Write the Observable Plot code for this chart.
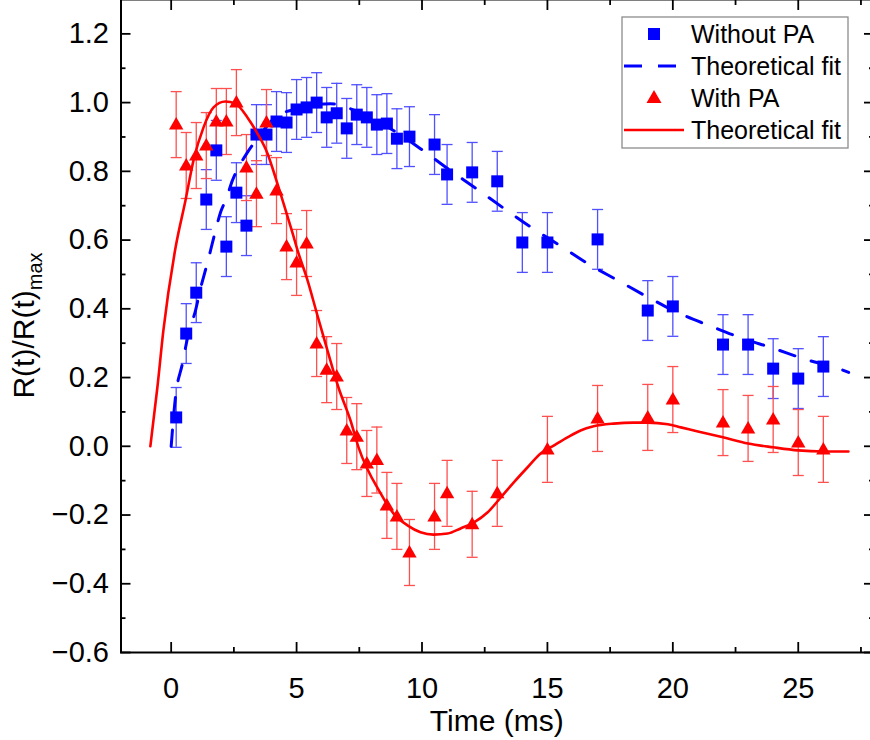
<!DOCTYPE html>
<html><head><meta charset="utf-8">
<script src="https://cdn.jsdelivr.net/npm/d3@7"></script>
<script src="https://cdn.jsdelivr.net/npm/@observablehq/plot@0.6"></script>
<style>
body{margin:0;background:#fff;}
#chart{width:870px;height:740px;overflow:hidden;}
</style>
</head><body><div id="chart"></div>
<script>
// ---- Data ----
const timeNoPA  = [0.2,0.6,1.0,1.4,1.8,2.2,2.6,3.0,3.4,3.8,4.2,4.6,5.0,5.4,5.8,6.2,6.6,7.0,7.4,7.8,8.2,8.6,9.0,9.5,10.5,11,12,13,14,15,17,19,20,22,23,24,25,26];
const valueNoPA = [0.084,0.328,0.447,0.718,0.861,0.581,0.738,0.642,0.907,0.907,0.945,0.942,0.980,0.986,1.000,0.957,0.969,0.925,0.965,0.957,0.936,0.939,0.895,0.901,0.878,0.791,0.797,0.771,0.593,0.593,0.602,0.395,0.407,0.296,0.296,0.226,0.197,0.232];
const errNoPA   = [0.087,0.087,0.087,0.087,0.087,0.087,0.087,0.087,0.087,0.087,0.087,0.087,0.087,0.087,0.087,0.087,0.087,0.087,0.087,0.087,0.087,0.087,0.087,0.087,0.087,0.087,0.087,0.087,0.087,0.087,0.087,0.087,0.087,0.087,0.087,0.087,0.087,0.087];

const timePA  = [0.2,0.6,1.0,1.4,1.8,2.2,2.6,3.0,3.4,3.8,4.2,4.6,5.0,5.4,5.8,6.2,6.6,7.0,7.4,7.8,8.2,8.6,9.0,9.5,10.5,11,12,13,15,17,19,20,22,23,24,25,26];
const valuePA = [0.936,0.817,0.846,0.875,0.945,0.945,1.000,0.811,0.735,0.942,0.744,0.581,0.535,0.590,0.299,0.223,0.203,0.046,0.028,-0.05,-0.04,-0.172,-0.204,-0.309,-0.204,-0.137,-0.227,-0.137,-0.009,0.081,0.084,0.136,0.069,0.052,0.078,0.011,-0.009];
const errPA   = [0.096,0.096,0.096,0.096,0.096,0.096,0.096,0.096,0.096,0.096,0.096,0.096,0.096,0.096,0.096,0.096,0.096,0.096,0.096,0.096,0.096,0.096,0.096,0.096,0.096,0.096,0.096,0.096,0.096,0.096,0.096,0.096,0.096,0.096,0.096,0.096,0.096];

const fitNoPATime  = [0,0.17,0.45,0.69,0.97,1.17,1.45,1.77,1.97,2.2,2.44,2.68,3.04,3.44,4.15,5.0,5.6,6.35,7.03,8.0,8.86,9.94,11.02,12.1,13.21,14.29,15.44,16.6,17.8,19.03,20.19,21.46,22.66,24.01,25.29,26.61,27.01];
const fitNoPAValue = [0,0.142,0.241,0.328,0.395,0.459,0.535,0.628,0.681,0.721,0.773,0.811,0.855,0.896,0.957,0.982,0.993,0.997,0.985,0.955,0.919,0.866,0.808,0.753,0.695,0.640,0.587,0.532,0.483,0.433,0.389,0.351,0.317,0.285,0.253,0.226,0.215];

const fitPATime  = [-0.83,-0.55,-0.31,0.17,0.57,0.89,1.29,1.69,2.16,2.56,3.04,3.44,3.84,4.16,4.48,4.84,5.04,5.44,5.83,6.23,6.67,7.15,7.47,8.35,8.86,9.42,9.94,10.46,11.02,11.54,12.06,12.62,13.14,13.66,14.21,14.73,15.25,15.8,16.32,16.84,17.64,18.43,19.0,19.8,20.32,21.0,22.0,23.0,24.0,25.0,26.0,27.0];
const fitPAValue = [0,0.171,0.337,0.576,0.715,0.832,0.928,0.986,1.003,0.997,0.957,0.910,0.852,0.782,0.707,0.620,0.570,0.482,0.381,0.279,0.171,0.075,-0.003,-0.137,-0.195,-0.230,-0.250,-0.257,-0.254,-0.239,-0.222,-0.192,-0.149,-0.105,-0.061,-0.021,0.002,0.026,0.046,0.058,0.066,0.069,0.069,0.064,0.055,0.043,0.026,0.008,-0.003,-0.012,-0.015,-0.015];

const xTicks = [0,5,10,15,20,25];
const xMinorTicks = [2.5,7.5,12.5,17.5,22.5,27.5];
const yTicks = [-0.6,-0.4,-0.2,0,0.2,0.4,0.6,0.8,1.0,1.2];
const yMinorTicks = [-0.5,-0.3,-0.1,0.1,0.3,0.5,0.7,0.9,1.1];
const legendLabels = ["Without PA","Theoretical fit","With PA","Theoretical fit"];

// ---- Build tables ----
const noPA = timeNoPA.map((t,i)=>({t, v:valueNoPA[i], e:errNoPA[i]}));
const withPA = timePA.map((t,i)=>({t, v:valuePA[i], e:errPA[i]}));
const fitNoPA = fitNoPATime.map((t,i)=>({t, v:fitNoPAValue[i]}));
const fitPA = fitPATime.map((t,i)=>({t, v:fitPAValue[i]}));

const BLUE = "#0000ff", RED = "#ff0000";
const BLUE_ERR = "#5050ff", RED_ERR = "#ff5050";
const FONT = "'Liberation Sans', Arial, sans-serif";

const squareSym = {draw(ctx){ const s=6; ctx.moveTo(-s,-s); ctx.lineTo(s,-s); ctx.lineTo(s,s); ctx.lineTo(-s,s); ctx.closePath(); }};
const triSym = {draw(ctx){ ctx.moveTo(0,-7.5); ctx.lineTo(7.2,5); ctx.lineTo(-7.2,5); ctx.closePath(); }};
const capSym = {draw(ctx){ ctx.moveTo(-5.5,0); ctx.lineTo(5.5,0); }};

const fmtY = d => d.toFixed(1).replace("-", "\u2212");

const W = 870, H = 740;
const plot = Plot.plot({
  width: W, height: H,
  marginLeft: 120.5, marginRight: -3, marginTop: -1, marginBottom: 88,
  style: {fontFamily: FONT, fontSize: "29px", color: "black", background: "white", overflow: "hidden"},
  x: {domain: [-2, 28]},
  y: {domain: [-0.6, 1.3]},
  marks: [
    // error bars
    Plot.ruleX(noPA, {x:"t", y1:d=>d.v-d.e, y2:d=>d.v+d.e, stroke:BLUE_ERR, strokeWidth:1.3}),
    Plot.dot(noPA, {x:"t", y:d=>d.v+d.e, symbol:capSym, fill:"none", stroke:BLUE_ERR, strokeWidth:1.3}),
    Plot.dot(noPA, {x:"t", y:d=>d.v-d.e, symbol:capSym, fill:"none", stroke:BLUE_ERR, strokeWidth:1.3}),
    Plot.ruleX(withPA, {x:"t", y1:d=>d.v-d.e, y2:d=>d.v+d.e, stroke:RED_ERR, strokeWidth:1.3}),
    Plot.dot(withPA, {x:"t", y:d=>d.v+d.e, symbol:capSym, fill:"none", stroke:RED_ERR, strokeWidth:1.3}),
    Plot.dot(withPA, {x:"t", y:d=>d.v-d.e, symbol:capSym, fill:"none", stroke:RED_ERR, strokeWidth:1.3}),
    // points
    Plot.dot(noPA, {x:"t", y:"v", symbol:squareSym, fill:BLUE, stroke:"none"}),
    // fits
    Plot.line(fitNoPA, {x:"t", y:"v", stroke:BLUE, strokeWidth:3, strokeDasharray:"16,17", curve:"monotone-x"}),
    Plot.dot(withPA, {x:"t", y:"v", symbol:triSym, fill:RED, stroke:"none"}),
    Plot.line(fitPA, {x:"t", y:"v", stroke:RED, strokeWidth:2.6, curve:"monotone-x"}),
    // axes
    Plot.frame({stroke:"black", strokeWidth:2}),
    Plot.axisX(xTicks, {anchor:"bottom", tickSize:-10, tickPadding:35, strokeWidth:1.8, label:null, fontSize:29, tickFormat:d=>String(d)}),
    Plot.axisX(xMinorTicks, {anchor:"bottom", tickSize:-5, strokeWidth:1.8, label:null, tickFormat:()=>""}),
    Plot.axisX(xTicks, {anchor:"top", tickSize:-10, strokeWidth:1.8, label:null, tickFormat:()=>""}),
    Plot.axisX(xMinorTicks, {anchor:"top", tickSize:-5, strokeWidth:1.8, label:null, tickFormat:()=>""}),
    Plot.axisY(yTicks, {anchor:"left", tickSize:-10, tickPadding:22, strokeWidth:1.8, label:null, fontSize:29, tickFormat:fmtY}),
    Plot.axisY(yMinorTicks, {anchor:"left", tickSize:-5, strokeWidth:1.8, label:null, tickFormat:()=>""}),
    Plot.axisY(yTicks, {anchor:"right", tickSize:-10, strokeWidth:1.8, label:null, tickFormat:()=>""}),
    Plot.axisY(yMinorTicks, {anchor:"right", tickSize:-5, strokeWidth:1.8, label:null, tickFormat:()=>""})
  ]
});
document.getElementById("chart").appendChild(plot);

// ---- Axis titles and legend ----
const svg = d3.select(plot);
const xs = plot.scale("x"), ys = plot.scale("y");
const cx = (xs.range[0] + xs.range[1]) / 2;
const cy = (ys.range[0] + ys.range[1]) / 2;

svg.append("text").attr("x", cx).attr("y", 731).attr("text-anchor","middle")
  .style("font-family", FONT).style("font-size","30px").attr("fill","black").text("Time (ms)");

const yl = svg.append("text").attr("transform", `translate(34,${cy}) rotate(-90)`).attr("text-anchor","middle")
  .style("font-family", FONT).style("font-size","30px").attr("fill","black");
yl.append("tspan").text("R(t)/R(t)");
yl.append("tspan").attr("dy", 8).style("font-size","20px").text("max");

const lg = svg.append("g").style("font-family", FONT).style("font-size","25px").attr("text-anchor","start");
lg.append("rect").attr("x",622).attr("y",17).attr("width",226).attr("height",131)
  .attr("fill","white").attr("stroke","#8c8c8c").attr("stroke-width",1.3);
const rows = [34,66,98,130];
lg.append("rect").attr("x",648).attr("y",rows[0]-6).attr("width",12).attr("height",12).attr("fill",BLUE);
lg.append("line").attr("x1",624).attr("x2",684).attr("y1",rows[1]).attr("y2",rows[1])
  .attr("stroke",BLUE).attr("stroke-width",3).attr("stroke-dasharray","18,16");
lg.append("path").attr("d",`M654,${rows[2]-8}L661.5,${rows[2]+5}L646.5,${rows[2]+5}Z`).attr("fill",RED);
lg.append("line").attr("x1",624).attr("x2",684).attr("y1",rows[3]).attr("y2",rows[3])
  .attr("stroke",RED).attr("stroke-width",2.6);
legendLabels.forEach((s,i)=>{
  lg.append("text").attr("x",691).attr("y",rows[i]).attr("dy","0.36em").attr("text-anchor","start").attr("fill","black").text(s);
});
</script>
</body></html>
